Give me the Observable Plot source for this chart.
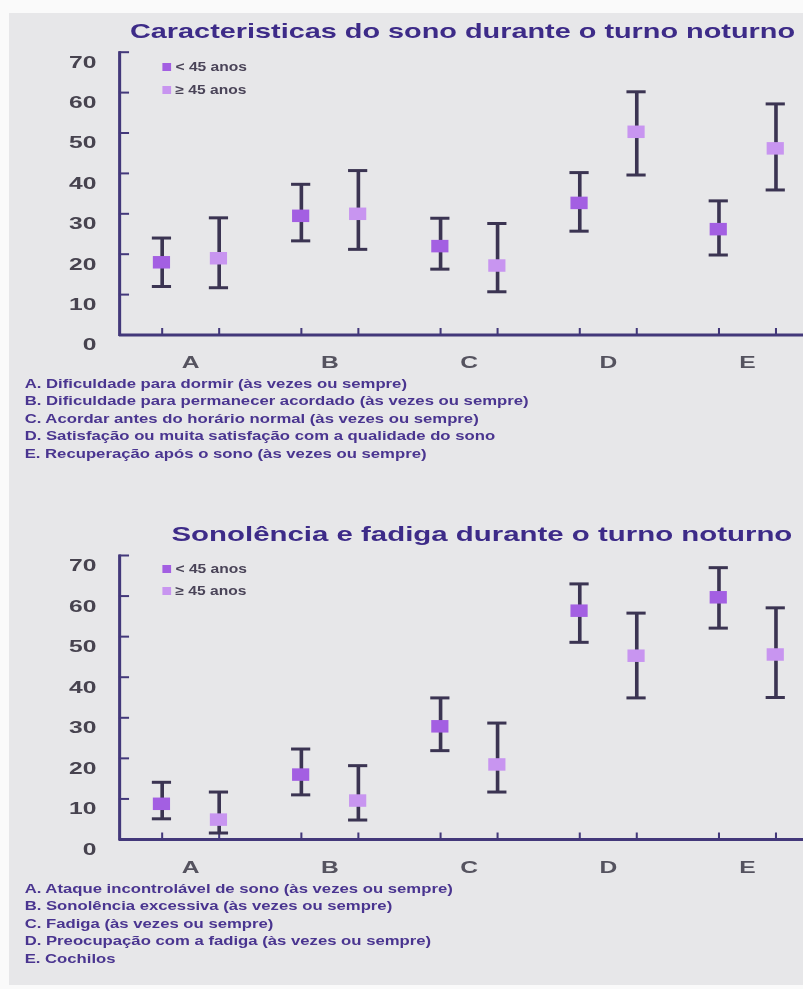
<!DOCTYPE html>
<html><head><meta charset="utf-8">
<script src="https://cdn.jsdelivr.net/npm/d3@7"></script>
<script src="https://cdn.jsdelivr.net/npm/@observablehq/plot@0.6"></script>
<style>
html,body{margin:0;padding:0;background:#fff;overflow:hidden}
#outer{position:relative;width:803px;height:989px;overflow:hidden;background:#fafafa}
#bg{position:absolute;left:9px;top:13px;right:0;bottom:4px;background:#e7e7e9}
#inner{position:absolute;left:0;top:0;width:554px;height:989px;transform:scaleX(1.45);transform-origin:0 0;font-family:'Liberation Sans',Arial,sans-serif;font-weight:bold}
.title{position:absolute;white-space:nowrap;line-height:1;color:#3d2b88}
.legrow{position:absolute;white-space:nowrap;font-size:12.5px;line-height:1;color:#4a4458;transform:scaleX(0.86);transform-origin:0 50%}
.sw{position:absolute;width:5.6px;height:8px}
.caption{position:absolute;white-space:nowrap;font-size:13.4px;line-height:17.5px;color:#4a3590;transform:scaleX(0.86);transform-origin:0 0}
.chart{position:absolute;left:0}
</style></head>
<body>
<div id="outer"><div id="bg"></div><div id="inner"></div></div>
<script>
// ---------- data ----------
const categories = ["A", "B", "C", "D", "E"];
const groups = ["< 45 anos", "\u2265 45 anos"];
const groupColors = ["#a35fe2", "#c895f0"];
const yTickValues = [0, 10, 20, 30, 40, 50, 60, 70];

// Chart 1: Características do sono
const sonoTitle = "Caracteristicas do sono durante o turno noturno";
const sonoYoungMean = [18, 29.5, 22, 32.7, 26.2];
const sonoYoungLow  = [12, 23.3, 16.3, 25.7, 19.8];
const sonoYoungHigh = [24, 37.3, 28.9, 40.2, 33.2];
const sonoOldMean = [19, 30, 17.2, 50.3, 46.2];
const sonoOldLow  = [11.7, 21.2, 10.7, 39.6, 35.9];
const sonoOldHigh = [29, 40.7, 27.6, 60.2, 57.2];
const sonoLabels = [
  "A. Dificuldade para dormir (às vezes ou sempre)",
  "B. Dificuldade para permanecer acordado (às vezes ou sempre)",
  "C. Acordar antes do horário normal (às vezes ou sempre)",
  "D. Satisfação ou muita satisfação com a qualidade do sono",
  "E. Recuperação após o sono (às vezes ou sempre)"
];

// Chart 2: Sonolência e fadiga
const fadigaTitle = "Sonolência e fadiga durante o turno noturno";
const fadigaYoungMean = [8.8, 16, 27.9, 56.4, 59.7];
const fadigaYoungLow  = [5.1, 11, 21.9, 48.6, 52.1];
const fadigaYoungHigh = [14.1, 22.3, 34.9, 63, 67];
const fadigaOldMean = [4.9, 9.6, 18.5, 45.3, 45.6];
const fadigaOldLow  = [1.6, 4.8, 11.7, 34.9, 35];
const fadigaOldHigh = [11.7, 18.2, 28.7, 55.8, 57.1];
const fadigaLabels = [
  "A. Ataque incontrolável de sono (às vezes ou sempre)",
  "B. Sonolência excessiva (às vezes ou sempre)",
  "C. Fadiga (às vezes ou sempre)",
  "D. Preocupação com a fadiga (às vezes ou sempre)",
  "E. Cochilos"
];

// ---------- layout / style ----------
const S = 1.45;            // horizontal stretch of the scanned figure
const W = 554;
const ML = 82;
const BW = 96.55;
const MR = W - (ML + categories.length * BW);
const FRAMEW = W - ML - MR;
const OFF = 28.5 / S;
const CAP = 20 / S, PT = 18 / S;
const axisColor = "#43387a";
const barColor = "#3b3452";

const tickUp = {draw(ctx, size) { const l = Math.sqrt(size / Math.PI); ctx.moveTo(0, 0); ctx.lineTo(0, -l); }};

function rows(m, lo, hi) { return categories.map((c, i) => ({cat: c, v: m[i], lo: lo[i], hi: hi[i]})); }

function chart(young, old, height, mt, mb) {
  const sets = [[young, -OFF, groupColors[0]], [old, OFF, groupColors[1]]];
  const marks = [
    Plot.ruleY([0], {stroke: axisColor, strokeWidth: 3}),
    Plot.frame({anchor: "left", stroke: axisColor, strokeWidth: 2.1}),
    Plot.tickY(yTickValues.slice(1), {y: d => d, stroke: axisColor, strokeWidth: 2, insetRight: FRAMEW - 7}),
    Plot.axisY(yTickValues, {tickSize: 0, tickPadding: 16, dy: 10, color: "#47434f", label: null}),
    Plot.axisX({tickSize: 0, tickPadding: 21, color: "#55535f", label: null})
  ];
  for (const [d, dx, c] of sets) {
    marks.push(Plot.dot(d, {x: "cat", y: () => 0, dx, symbol: tickUp, r: 7, stroke: axisColor, strokeWidth: 1.4, fill: "none"}));
    marks.push(Plot.ruleX(d, {x: "cat", y1: "lo", y2: "hi", dx, stroke: barColor, strokeWidth: 2.5}));
    marks.push(Plot.tickY(d, {x: "cat", y: "lo", dx, stroke: barColor, strokeWidth: 3, insetLeft: (BW - CAP) / 2, insetRight: (BW - CAP) / 2}));
    marks.push(Plot.tickY(d, {x: "cat", y: "hi", dx, stroke: barColor, strokeWidth: 3, insetLeft: (BW - CAP) / 2, insetRight: (BW - CAP) / 2}));
    marks.push(Plot.tickY(d, {x: "cat", y: "v", dx, stroke: c, strokeWidth: 12.5, insetLeft: (BW - PT) / 2, insetRight: (BW - PT) / 2}));
  }
  return Plot.plot({
    width: W, height, marginLeft: ML, marginRight: MR, marginTop: mt, marginBottom: mb,
    x: {type: "band", domain: categories, padding: 0},
    y: {domain: [0, 70]},
    marks,
    style: {background: "transparent", overflow: "visible", fontFamily: "'Liberation Sans', Arial, sans-serif", fontSize: "17px", fontWeight: "bold"}
  });
}

const inner = document.getElementById("inner");
function addDiv(cls, text, left, top) {
  const el = document.createElement("div");
  el.className = cls; el.textContent = text;
  el.style.left = left + "px"; el.style.top = top + "px";
  inner.appendChild(el); return el;
}
function legend(centers) {
  groups.forEach((g, i) => {
    const sw = document.createElement("div");
    sw.className = "sw"; sw.style.background = groupColors[i];
    sw.style.left = (163 / S) + "px"; sw.style.top = (centers[i] - 4) + "px";
    inner.appendChild(sw);
    addDiv("legrow", g, 176 / S, centers[i] - 6.1);
  });
}
function section(title, titleSize, titleLeft, titleBaseline, legendCenters, svgTop, svgH, mt, mb, young, old, labels, capTop) {
  const t = addDiv("title", title, titleLeft / S, titleBaseline - 0.8465 * titleSize);
  t.style.fontSize = titleSize + "px";
  const svg = chart(young, old, svgH, mt, mb);
  svg.classList.add("chart");
  svg.style.position = "absolute"; svg.style.top = svgTop + "px"; svg.style.left = "0px";
  inner.appendChild(svg);
  legend(legendCenters);
  const cap = addDiv("caption", "", 24 / S, capTop);
  labels.forEach(t => { const l = document.createElement("div"); l.textContent = t; cap.appendChild(l); });
}

section(sonoTitle, 19.9, 130, 38.5, [67, 90], 40, 335, 11.7, 40.5,
  rows(sonoYoungMean, sonoYoungLow, sonoYoungHigh), rows(sonoOldMean, sonoOldLow, sonoOldHigh), sonoLabels, 374.5);
section(fadigaTitle, 20.3, 171.5, 541, [569, 591], 544, 335, 11, 40,
  rows(fadigaYoungMean, fadigaYoungLow, fadigaYoungHigh), rows(fadigaOldMean, fadigaOldLow, fadigaOldHigh), fadigaLabels, 879.5);
</script>
</body></html>
